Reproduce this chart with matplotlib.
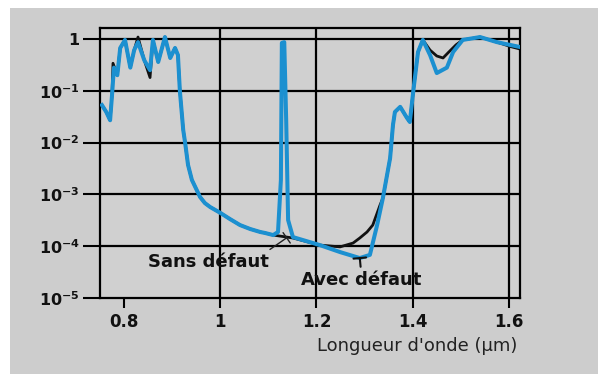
"""
Transmission spectrum, with and without defect (log scale), redrawn from a scanned figure.
"""
import matplotlib
matplotlib.use("Agg")
import matplotlib.pyplot as plt
from matplotlib.patches import Rectangle

# wavelength (um) and transmission, "Avec défaut" (blue curve)
wl_avec = [0.754, 0.763, 0.771, 0.775, 0.779, 0.786, 0.792, 0.802, 0.813, 0.821, 0.829, 0.842,
           0.854, 0.860, 0.871, 0.885, 0.896, 0.906, 0.912, 0.916, 0.923, 0.927, 0.933, 0.941,
           0.958, 0.968, 0.979, 1.000, 1.020, 1.041, 1.062, 1.083, 1.093, 1.110, 1.120, 1.126,
           1.128, 1.133, 1.137, 1.141, 1.151, 1.207, 1.249, 1.290, 1.311, 1.326, 1.338, 1.353,
           1.359, 1.363, 1.374, 1.388, 1.394, 1.401, 1.411, 1.421, 1.436, 1.450, 1.471, 1.484,
           1.504, 1.540, 1.575, 1.602, 1.623]
tr_avec = [0.053, 0.039, 0.027, 0.083, 0.28, 0.20, 0.67, 0.96, 0.28, 0.61, 0.87, 0.39,
           0.25, 0.96, 0.36, 1.09, 0.43, 0.67, 0.49, 0.10, 0.0175, 0.0098, 0.0037, 0.0019,
           8.9e-4, 6.8e-4, 5.7e-4, 4.4e-4, 3.35e-4, 2.56e-4, 2.15e-4, 1.88e-4, 1.8e-4, 1.64e-4, 1.88e-4, 1.9e-3,
           0.84, 0.87, 0.027, 3.2e-4, 1.5e-4, 1.05e-4, 7.7e-5, 5.9e-5, 6.8e-5, 2.56e-4, 8.5e-4, 5.0e-3,
           0.022, 0.039, 0.049, 0.030, 0.025, 0.095, 0.56, 0.96, 0.49, 0.22, 0.28, 0.56,
           0.96, 1.09, 0.87, 0.77, 0.70]

# "Sans défaut" (black curve)
wl_sans = [0.754, 0.763, 0.771, 0.775, 0.777, 0.786, 0.792, 0.802, 0.813, 0.821, 0.829, 0.842,
           0.854, 0.860, 0.871, 0.885, 0.896, 0.906, 0.912, 0.916, 0.923, 0.927, 0.933, 0.941,
           0.958, 0.968, 0.979, 1.000, 1.020, 1.041, 1.062, 1.083, 1.093, 1.110, 1.151, 1.207,
           1.249, 1.276, 1.290, 1.305, 1.317, 1.332, 1.338, 1.353, 1.359, 1.363, 1.374, 1.388,
           1.394, 1.401, 1.411, 1.421, 1.436, 1.450, 1.463, 1.475, 1.490, 1.504, 1.540, 1.575,
           1.602, 1.623]
tr_sans = [0.053, 0.039, 0.027, 0.083, 0.34, 0.20, 0.67, 0.96, 0.28, 0.61, 1.09, 0.39,
           0.18, 0.96, 0.36, 1.09, 0.43, 0.67, 0.49, 0.10, 0.0175, 0.0098, 0.0037, 0.0019,
           8.9e-4, 6.8e-4, 5.7e-4, 4.4e-4, 3.35e-4, 2.56e-4, 2.15e-4, 1.88e-4, 1.8e-4, 1.64e-4, 1.44e-4, 1.05e-4,
           9.7e-5, 1.15e-4, 1.44e-4, 1.88e-4, 2.56e-4, 6.2e-4, 8.5e-4, 5.0e-3, 0.022, 0.039, 0.049, 0.030,
           0.025, 0.095, 0.56, 0.96, 0.61, 0.47, 0.43, 0.56, 0.77, 0.96, 1.09, 0.87,
           0.72, 0.64]

xticks = [0.8, 1.0, 1.2, 1.4, 1.6]
xtick_labels = ["0.8", "1", "1.2", "1.4", "1.6"]
yticks = [1e-5, 1e-4, 1e-3, 1e-2, 1e-1, 1]
ytick_labels = [r"$\mathbf{10^{-5}}$", r"$\mathbf{10^{-4}}$", r"$\mathbf{10^{-3}}$",
                r"$\mathbf{10^{-2}}$", r"$\mathbf{10^{-1}}$", r"$\mathbf{1}$"]
grid_x = [1.0, 1.2, 1.4, 1.6]
grid_y = [1e-4, 1e-3, 1e-2, 1e-1, 1]

plt.rcParams['font.family'] = ['DejaVu Sans']
plt.rcParams['mathtext.fontset'] = 'dejavusans'

fig = plt.figure(figsize=(5.98, 3.74), dpi=100)
fig.patch.set_facecolor('white')
# scanned gray page
fig.patches.append(Rectangle((10 / 598, 0), 1, 1 - 8 / 374, transform=fig.transFigure,
                             facecolor='#cdcdcd', edgecolor='none', zorder=-5))

ax = fig.add_axes([100 / 598, 1 - 298 / 374, 420 / 598, 270 / 374])
ax.set_zorder(2)
ax.set_facecolor('#d0d0d0')
ax.set_yscale('log')
ax.set_xlim(0.750, 1.623)
ax.set_ylim(1e-5, 1.63)

for gx in grid_x:
    ax.axvline(gx, color='black', lw=1.6, zorder=1)
for gy in grid_y:
    ax.axhline(gy, color='black', lw=1.6, zorder=1)

ax.plot(wl_sans, tr_sans, color='#111111', lw=2.0, zorder=2)
ax.plot(wl_avec, tr_avec, color='#1c90d0', lw=2.9, zorder=3)

for sp in ax.spines.values():
    sp.set_linewidth(1.6)
    sp.set_color('black')

ax.set_xticks(xticks)
ax.set_xticklabels(xtick_labels, fontsize=12, fontweight='bold', color='#111111')
ax.set_yticks(yticks)
ax.set_yticklabels(ytick_labels, fontsize=11.5, color='#111111')
ax.minorticks_off()
ax.tick_params(axis='x', direction='out', length=7.5, width=1.5, pad=3)
ax.tick_params(axis='y', direction='out', length=12.5, width=1.5, pad=2)

ax.annotate("Sans défaut", xy=(1.138, 1.45e-4), xytext=(0.9745, 4.95e-5),
            ha='center', va='center', fontsize=13, fontweight='bold', color='#111111',
            arrowprops=dict(arrowstyle='-[, widthB=0.35, lengthB=0.0', color='#222222', lw=1.0,
                            relpos=(0.97, 1.0), shrinkA=1, shrinkB=0))
ax.annotate("Avec défaut", xy=(1.290, 5.9e-5), xytext=(1.2925, 2.23e-5),
            ha='center', va='center', fontsize=13, fontweight='bold', color='#111111',
            arrowprops=dict(arrowstyle='-[, widthB=0.35, lengthB=0.0', color='#111111', lw=1.5,
                            relpos=(0.5, 1.0), shrinkA=1, shrinkB=0))

fig.text(417 / 598, 1 - 346 / 374, "Longueur d'onde (µm)", ha='center', va='center',
         fontsize=13, color='#222222')

fig.savefig("out.png", dpi=100, facecolor=fig.get_facecolor())
